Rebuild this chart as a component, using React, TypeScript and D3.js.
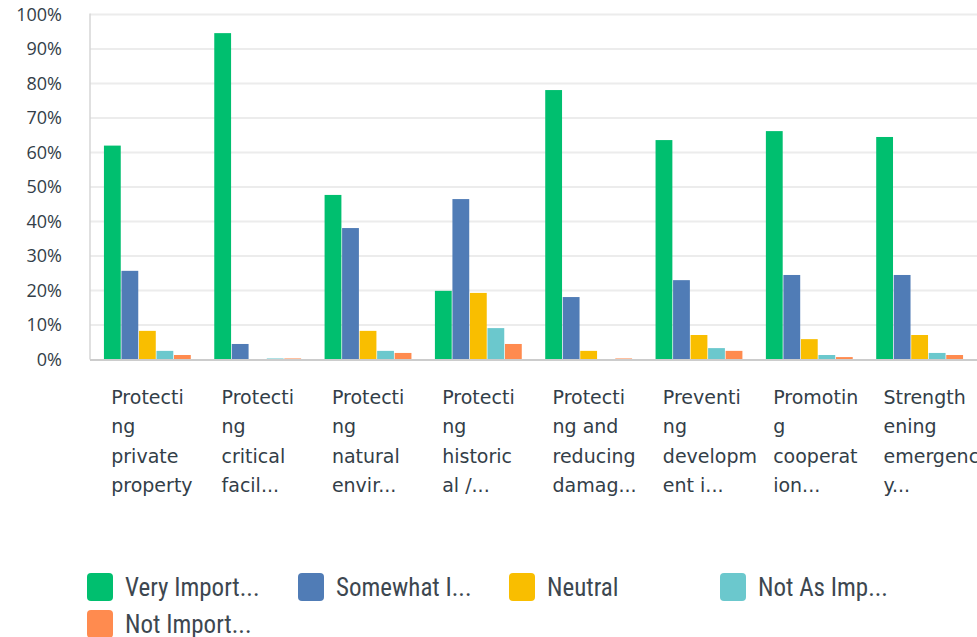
import React, { useEffect, useRef } from 'react';
import * as d3 from 'd3';

// categories, already broken into the lines shown under each group
const categories: string[][] = [
    ["Protecti", "ng", "private", "property"],
    ["Protecti", "ng", "critical", "facil..."],
    ["Protecti", "ng", "natural", "envir..."],
    ["Protecti", "ng", "historic", "al /..."],
    ["Protecti", "ng and", "reducing", "damag..."],
    ["Preventi", "ng", "developm", "ent i..."],
    ["Promotin", "g", "cooperat", "ion..."],
    ["Strength", "ening", "emergenc", "y..."],
];

const seriesNames = ["Very Import...", "Somewhat I...", "Neutral", "Not As Imp...", "Not Import..."];
const seriesColors = ["#00bf6f", "#507cb6", "#f9be00", "#6bc8cd", "#ff8b4f"];

const veryImportant = [62.0, 94.6, 47.7, 19.9, 78.1, 63.6, 66.2, 64.5];
const somewhatImportant = [25.7, 4.5, 38.1, 46.5, 18.1, 23.0, 24.5, 24.5];
const neutral = [8.3, 0, 8.3, 19.3, 2.5, 7.1, 5.9, 7.1];
const notAsImportant = [2.5, 0.3, 2.5, 9.1, 0, 3.3, 1.3, 1.9];
const notImportant = [1.3, 0.3, 1.9, 4.5, 0.3, 2.5, 0.7, 1.3];

const yTicks = [0, 10, 20, 30, 40, 50, 60, 70, 80, 90, 100];

const App: React.FC = () => {
    const ref = useRef<SVGSVGElement>(null);

    useEffect(() => {
        document.body.style.margin = "0";
        const svg = d3.select(ref.current);
        svg.selectAll("*").remove();

        const series = [veryImportant, somewhatImportant, neutral, notAsImportant, notImportant];
        const left = 90, right = 977, top = 14.5, bottom = 359.5;

        const y = d3.scaleLinear().domain([0, 100]).range([bottom, top]);
        const x0 = d3.scaleBand<number>()
            .domain(d3.range(categories.length))
            .range([left, right])
            .paddingInner(0.2)
            .paddingOuter(0.12);
        const x1 = d3.scaleBand<number>()
            .domain(d3.range(series.length))
            .range([0, x0.bandwidth()])
            .padding(0.04);

        // gridlines
        svg.append("g")
            .selectAll("line")
            .data(yTicks.filter(t => t > 0))
            .enter()
            .append("line")
            .attr("x1", left)
            .attr("x2", right)
            .attr("y1", d => y(d))
            .attr("y2", d => y(d))
            .attr("stroke", "#ececec")
            .attr("stroke-width", 2);

        // y labels
        svg.append("g")
            .selectAll("text")
            .data(yTicks)
            .enter()
            .append("text")
            .attr("x", 62)
            .attr("y", d => y(d))
            .attr("dy", "0.35em")
            .attr("text-anchor", "end")
            .attr("font-family", "'Open Sans', sans-serif")
            .attr("font-size", 18)
            .attr("fill", "#333e48")
            .text(d => d + "%");

        // left axis line
        svg.append("line")
            .attr("x1", left)
            .attr("x2", left)
            .attr("y1", top - 1)
            .attr("y2", bottom)
            .attr("stroke", "#d6d6d6")
            .attr("stroke-width", 1.5);

        // bars
        const groups = svg.append("g")
            .selectAll("g")
            .data(categories.map((_, i) => i))
            .enter()
            .append("g")
            .attr("transform", d => `translate(${x0(d)}, 0)`);

        groups.selectAll("rect")
            .data(ci => series.map((s, si) => ({ si, v: s[ci] })))
            .enter()
            .append("rect")
            .attr("x", d => x1(d.si) as number)
            .attr("width", x1.bandwidth())
            .attr("y", d => y(d.v))
            .attr("height", d => bottom - y(d.v))
            .attr("fill", d => seriesColors[d.si]);

        // baseline
        svg.append("line")
            .attr("x1", left)
            .attr("x2", right)
            .attr("y1", bottom + 0.5)
            .attr("y2", bottom + 0.5)
            .attr("stroke", "#cccccc")
            .attr("stroke-width", 2);

        // category labels
        const labels = svg.append("g")
            .selectAll("text")
            .data(categories)
            .enter()
            .append("text")
            .attr("x", (_, i) => (x0(i) as number) + 8)
            .attr("font-family", "'DejaVu Sans', sans-serif")
            .attr("font-size", 19)
            .attr("fill", "#333e48");
        labels.selectAll("tspan")
            .data(d => d)
            .enter()
            .append("tspan")
            .attr("x", function () { return (this.parentNode as SVGTextElement).getAttribute("x"); })
            .attr("y", (_, i) => 404 + i * 29.3)
            .text(d => d);

        // legend
        const legend = svg.append("g")
            .selectAll("g")
            .data(seriesNames)
            .enter()
            .append("g")
            .attr("transform", (_, i) => `translate(${87 + (i % 4) * 211}, ${573 + Math.floor(i / 4) * 37})`);
        legend.append("rect")
            .attr("width", 26)
            .attr("height", 28)
            .attr("rx", 4)
            .attr("fill", (_, i) => seriesColors[i]);
        legend.append("text")
            .attr("x", 38)
            .attr("y", 14)
            .attr("dy", "0.36em")
            .attr("font-family", "'Liberation Sans Narrow', 'Roboto Condensed', Roboto, sans-serif")
            .attr("font-size", 25)
            .attr("fill", "#3d4750")
            .text(d => d);
    }, []);

    return (
        <svg ref={ref} width={977} height={637} style={{ display: "block", background: "white" }} />
    );
};

export default App;
